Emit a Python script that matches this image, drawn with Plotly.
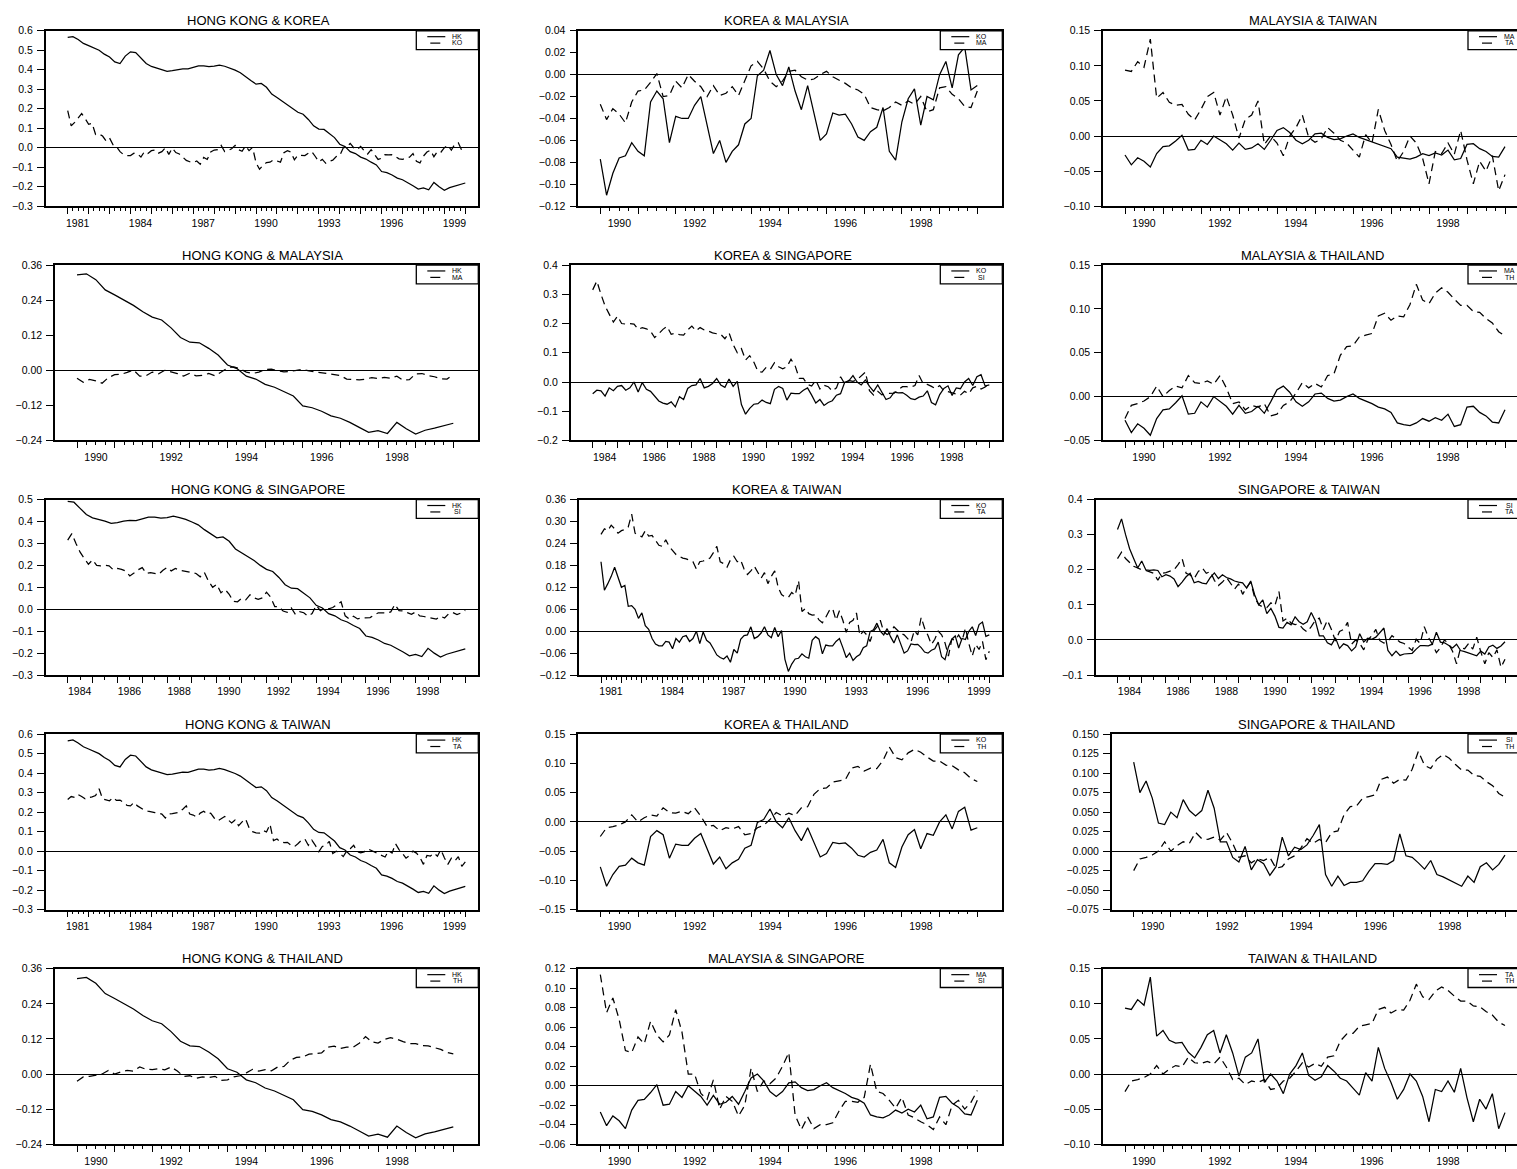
import numpy as np
import plotly.graph_objects as go

# ---------------- data ----------------
# HK: quarterly, 1981.0 .. 2000.0
HK = [0.566, 0.570, 0.555, 0.535, 0.524, 0.510, 0.500, 0.480, 0.465, 0.440,
      0.432, 0.470, 0.492, 0.488, 0.460, 0.432, 0.417, 0.410, 0.402, 0.392,
      0.395, 0.402, 0.405, 0.404, 0.412, 0.420, 0.420, 0.416, 0.418, 0.424,
      0.418, 0.410, 0.398, 0.385, 0.363, 0.345, 0.326, 0.330, 0.310, 0.275,
      0.258, 0.240, 0.222, 0.200, 0.182, 0.172, 0.145, 0.112, 0.096, 0.094,
      0.075, 0.052, 0.018, 0.006, -0.020, -0.030, -0.048, -0.058, -0.074, -0.088,
      -0.122, -0.128, -0.140, -0.156, -0.164, -0.178, -0.195, -0.212, -0.206, -0.216,
      -0.178, -0.200, -0.218, -0.205, -0.198, -0.190, -0.181]

# KO: bimonthly, 1981.0 .. 2000.0
KO = [0.190, 0.112, 0.130, 0.150, 0.175, 0.150, 0.120, 0.125, 0.068, 0.070,
      0.060, 0.035, 0.050, 0.015, 0.005, -0.020, -0.035, -0.040,
      -0.040, -0.028, -0.030, -0.048, -0.020, -0.030, -0.015, -0.012, -0.028, -0.020,
      0.000, -0.034, -0.002, -0.025, -0.032, -0.048, -0.065, -0.072, -0.076, -0.068,
      -0.085, -0.050, -0.060, -0.022, -0.012, -0.010, 0.012, -0.020, -0.015, -0.005,
      0.012, -0.010, -0.018, 0.010, -0.015, 0.002,
      -0.077, -0.110, -0.090, -0.076, -0.074, -0.062, -0.070, -0.074, -0.025, -0.015,
      -0.022, -0.062, -0.038, -0.040, -0.040, -0.028, -0.020, -0.045, -0.072, -0.060,
      -0.080, -0.070, -0.064, -0.045, -0.040, -0.001, 0.004, 0.022, 0.000, -0.010,
      0.007, -0.015, -0.032, -0.010, -0.035, -0.060, -0.054, -0.035, -0.037, -0.036,
      -0.045, -0.057, -0.060, -0.052, -0.048, -0.030, -0.070, -0.078, -0.043, -0.022,
      -0.013, -0.046, -0.020, -0.023, 0.000, 0.012, -0.012, 0.018, 0.025, -0.014,
      -0.010]

# TA: bimonthly, 1981.0 .. 2000.0
TA = [0.265, 0.280, 0.275, 0.290, 0.280, 0.268, 0.275, 0.278, 0.285, 0.320,
      0.268, 0.262, 0.258, 0.275, 0.260, 0.262, 0.248, 0.235, 0.232, 0.250,
      0.232, 0.220, 0.210, 0.205, 0.200, 0.198, 0.195, 0.190, 0.170, 0.190,
      0.192, 0.195, 0.200, 0.215, 0.232, 0.190, 0.185, 0.175, 0.195, 0.205,
      0.190, 0.195, 0.170, 0.155, 0.165, 0.178, 0.160, 0.145, 0.160, 0.130,
      0.150, 0.165, 0.120, 0.100,
      0.094, 0.092, 0.106, 0.098, 0.138, 0.054, 0.062, 0.048, 0.044, 0.045,
      0.031, 0.023, 0.038, 0.056, 0.062, 0.030, 0.056, 0.030, -0.003, 0.024,
      0.030, 0.050, -0.012, 0.000, -0.010, -0.028, 0.000, 0.012, 0.030, -0.002,
      -0.009, -0.004, 0.012, 0.004, -0.006, -0.010, -0.020, -0.030, 0.002, -0.010,
      0.038, 0.008, -0.012, -0.036, -0.022, 0.000, -0.010, -0.032, -0.068, -0.022,
      -0.025, -0.010, -0.026, 0.008, -0.034, -0.068, -0.036, -0.050, -0.028, -0.078,
      -0.055]

# SI: bimonthly, 1984.0 .. 2000.0
SI = [0.315, 0.345, 0.300, 0.260, 0.232, 0.205, 0.225, 0.200, 0.198, 0.200,
      0.198, 0.180, 0.186, 0.182, 0.174, 0.152, 0.165, 0.180, 0.190, 0.163,
      0.167, 0.162, 0.160, 0.178, 0.191, 0.175, 0.186, 0.178, 0.174, 0.168,
      0.165, 0.163, 0.148, 0.168, 0.128, 0.100,
      0.114, 0.075, 0.090, 0.068, 0.036, 0.034, 0.050, 0.043, 0.066, 0.052,
      0.045, 0.052, 0.078, 0.055, 0.012, 0.012, -0.008, -0.014, 0.006, -0.024,
      -0.011, -0.016, -0.031, -0.020, 0.018, -0.006, 0.005, 0.002, 0.008, 0.020,
      0.034, -0.030, -0.045, -0.032, -0.044, -0.040, -0.040, -0.038, -0.026, -0.016,
      -0.016, -0.017, -0.012, 0.022, -0.006, -0.008, -0.015, -0.023, -0.012, -0.030,
      -0.033, -0.037, -0.040, -0.045, -0.032, -0.040, -0.020, -0.015, -0.024, -0.017,
      -0.005]

# MA: bimonthly, 1990.0 .. 2000.0
MA = [-0.027, -0.041, -0.031, -0.036, -0.044, -0.025, -0.015, -0.014, -0.007, 0.001,
      -0.020, -0.019, -0.006, -0.012, 0.000, -0.006, -0.011, -0.020, -0.010, -0.019,
      -0.017, -0.011, -0.019, -0.006, 0.008, 0.012, 0.005, -0.006, -0.011, -0.006,
      0.003, 0.004, -0.002, -0.005, -0.004, 0.000, 0.003, -0.002, -0.005, -0.008,
      -0.012, -0.014, -0.018, -0.030, -0.032, -0.033, -0.030, -0.025, -0.028, -0.024,
      -0.027, -0.020, -0.034, -0.032, -0.012, -0.011, -0.018, -0.022, -0.029, -0.030,
      -0.015]

# TH: bimonthly, 1990.0 .. 2000.0
TH = [-0.025, -0.010, -0.008, -0.005, 0.000, 0.012, 0.000, 0.007, 0.012, 0.010,
      0.024, 0.016, 0.015, 0.018, 0.014, 0.024, 0.010, -0.008, -0.006, -0.015,
      -0.010, -0.012, -0.008, -0.022, -0.020, -0.010, -0.006, 0.004, 0.016, 0.010,
      0.015, 0.011, 0.024, 0.026, 0.047, 0.057, 0.058, 0.068, 0.070, 0.072,
      0.092, 0.095, 0.087, 0.092, 0.091, 0.105, 0.128, 0.110, 0.106, 0.118,
      0.124, 0.119, 0.111, 0.104, 0.104, 0.097, 0.096, 0.089, 0.084, 0.074,
      0.069]

SERIES_VALUES = {"HK": HK, "KO": KO, "TA": TA, "SI": SI, "MA": MA, "TH": TH}
SERIES_START = {"HK": 1981, "KO": 1981, "TA": 1981, "SI": 1984, "MA": 1990, "TH": 1990}
SERIES_END = 2000.0

TITLES = ["HONG KONG & KOREA", "KOREA & MALAYSIA", "MALAYSIA & TAIWAN",
          "HONG KONG & MALAYSIA", "KOREA & SINGAPORE", "MALAYSIA & THAILAND",
          "HONG KONG & SINGAPORE", "KOREA & TAIWAN", "SINGAPORE & TAIWAN",
          "HONG KONG & TAIWAN", "KOREA & THAILAND", "SINGAPORE & THAILAND",
          "HONG KONG & THAILAND", "MALAYSIA & SINGAPORE", "TAIWAN & THAILAND"]
PAIRS = [("HK", "KO"), ("KO", "MA"), ("MA", "TA"),
         ("HK", "MA"), ("KO", "SI"), ("MA", "TH"),
         ("HK", "SI"), ("KO", "TA"), ("SI", "TA"),
         ("HK", "TA"), ("KO", "TH"), ("SI", "TH"),
         ("HK", "TH"), ("MA", "SI"), ("TA", "TH")]
SAMPLE_START = [1981, 1990, 1990,
                1990, 1984, 1990,
                1984, 1981, 1984,
                1981, 1990, 1990,
                1990, 1990, 1990]
Y_MIN = [-0.3, -0.12, -0.10, -0.24, -0.2, -0.05, -0.3, -0.12, -0.1,
         -0.3, -0.15, -0.075, -0.24, -0.06, -0.10]
Y_MAX = [0.6, 0.04, 0.15, 0.36, 0.4, 0.15, 0.5, 0.36, 0.4,
         0.6, 0.15, 0.150, 0.36, 0.12, 0.15]
Y_STEP = [0.1, 0.02, 0.05, 0.12, 0.1, 0.05, 0.1, 0.06, 0.1,
          0.1, 0.05, 0.025, 0.12, 0.02, 0.05]
Y_FMT = [".1f", ".2f", ".2f", ".2f", ".1f", ".2f", ".1f", ".2f", ".1f",
         ".1f", ".2f", ".3f", ".2f", ".2f", ".2f"]

# ---------------- layout geometry (pixels) ----------------
W, H = 1517, 1169
ROW_TOP = [25.0, 261.7, 498.7, 735.7, 972.7]
FRAME_H = 177.3
COL_RIGHT = [478.3, 1002.3, 1530.0]
FRAME_LEFT = [[45.7, 578.3, 1103.0],
              [55.0, 570.7, 1103.0],
              [45.7, 579.0, 1095.5],
              [45.7, 578.3, 1111.7],
              [55.0, 578.3, 1103.0]]
FONT = "Liberation Sans, Arial, Helvetica, sans-serif"
TICK_FONT = dict(family=FONT, size=10.5, color="black")

fig = go.Figure()
layout = {}
annotations = []
shapes = []

for i in range(15):
    r, c = divmod(i, 3)
    sfx = "" if i == 0 else str(i + 1)
    L = FRAME_LEFT[r][c]
    R = COL_RIGHT[c]
    Rv = min(R, W)
    top = ROW_TOP[r]
    bot = top + FRAME_H
    s0 = SAMPLE_START[i]
    off0 = 22.0
    off1 = 25.0 if (c == 2 or s0 == 1990) else 13.0
    ppy = (R - off1 - L - off0) / (SERIES_END - s0)
    x0 = s0 - off0 / ppy
    x1 = x0 + (Rv - L) / ppy

    years = list(range(s0, 2001))
    if s0 == 1990:
        labs = set(range(1990, 1999, 2))
        minor_vals = [y + q / 4 for y in range(s0, 2000) for q in (1, 2, 3)]
    elif s0 == 1984:
        labs = set(range(1984, 1999, 2))
        minor_vals = [y + 0.5 for y in range(s0, 2000)]
    else:
        labs = set(range(1981, 2000, 3))
        minor_vals = [y + q / 4 for y in range(s0, 2000) for q in (1, 2, 3)]
    ticktext = [str(y) if y in labs else "" for y in years]

    layout["xaxis" + sfx] = dict(
        domain=[L / W, Rv / W], anchor="y" + sfx, range=[x0, x1],
        showline=True, mirror=True, linecolor="black", linewidth=1.5,
        showgrid=False, zeroline=False,
        tickmode="array", tickvals=years, ticktext=ticktext,
        ticks="outside", ticklen=6, tickwidth=1, tickcolor="black",
        ticklabelshift=int(round(0.5 * ppy)), tickfont=TICK_FONT,
        minor=dict(tickmode="array", tickvals=minor_vals, ticks="outside",
                   ticklen=3, tickwidth=1, tickcolor="black", showgrid=False),
        fixedrange=True,
    )
    yt = list(np.round(np.arange(Y_MIN[i], Y_MAX[i] + Y_STEP[i] / 2, Y_STEP[i]), 6))
    layout["yaxis" + sfx] = dict(
        domain=[1 - bot / H, 1 - top / H], anchor="x" + sfx,
        range=[Y_MIN[i], Y_MAX[i]],
        showline=True, mirror=(c != 2), linecolor="black", linewidth=1.5,
        showgrid=False, zeroline=True, zerolinecolor="black", zerolinewidth=1.4,
        tickmode="array", tickvals=yt, tickformat=Y_FMT[i],
        ticks="outside", ticklen=7, tickwidth=1, tickcolor="black",
        ticklabelstandoff=2, tickfont=TICK_FONT, fixedrange=True,
    )

    for k, name in enumerate(PAIRS[i]):
        vals = np.array(SERIES_VALUES[name], dtype=float)
        xs = np.linspace(SERIES_START[name], SERIES_END, len(vals))
        m = xs >= s0 - 1e-9
        fig.add_trace(go.Scatter(
            x=xs[m], y=vals[m], mode="lines", name=name, showlegend=False,
            line=dict(color="black", width=1.25,
                      dash="solid" if k == 0 else "8px,5px"),
            xaxis="x" + sfx, yaxis="y" + sfx, hoverinfo="skip"))

    # title
    annotations.append(dict(
        text=TITLES[i], x=((L + R) / 2 - 4) / W, y=1 - (top - 10) / H,
        xref="paper", yref="paper", showarrow=False, xanchor="center",
        yanchor="middle", font=dict(family=FONT, size=13, color="black")))

    # legend box
    shapes.append(dict(type="rect", xref="paper", yref="paper",
                       x0=(R - 62) / W, x1=R / W,
                       y0=1 - (top + 19) / H, y1=1 - top / H,
                       line=dict(color="black", width=1.3), fillcolor="white"))
    shapes.append(dict(type="line", xref="paper", yref="paper",
                       x0=(R - 51) / W, x1=(R - 33) / W,
                       y0=1 - (top + 6) / H, y1=1 - (top + 6) / H,
                       line=dict(color="black", width=1.2)))
    shapes.append(dict(type="line", xref="paper", yref="paper",
                       x0=(R - 48) / W, x1=(R - 38) / W,
                       y0=1 - (top + 12.5) / H, y1=1 - (top + 12.5) / H,
                       line=dict(color="black", width=1.2)))
    for k, name in enumerate(PAIRS[i]):
        annotations.append(dict(
            text=name, x=(R - 21) / W, y=1 - (top + 5.5 + 6.8 * k) / H,
            xref="paper", yref="paper", showarrow=False, xanchor="center",
            yanchor="middle", font=dict(family=FONT, size=7, color="black")))

fig.update_layout(
    width=W, height=H, margin=dict(l=0, r=0, t=0, b=0, pad=0),
    paper_bgcolor="white", plot_bgcolor="white",
    annotations=annotations, shapes=shapes, showlegend=False, **layout)

fig.write_html("out.html")
